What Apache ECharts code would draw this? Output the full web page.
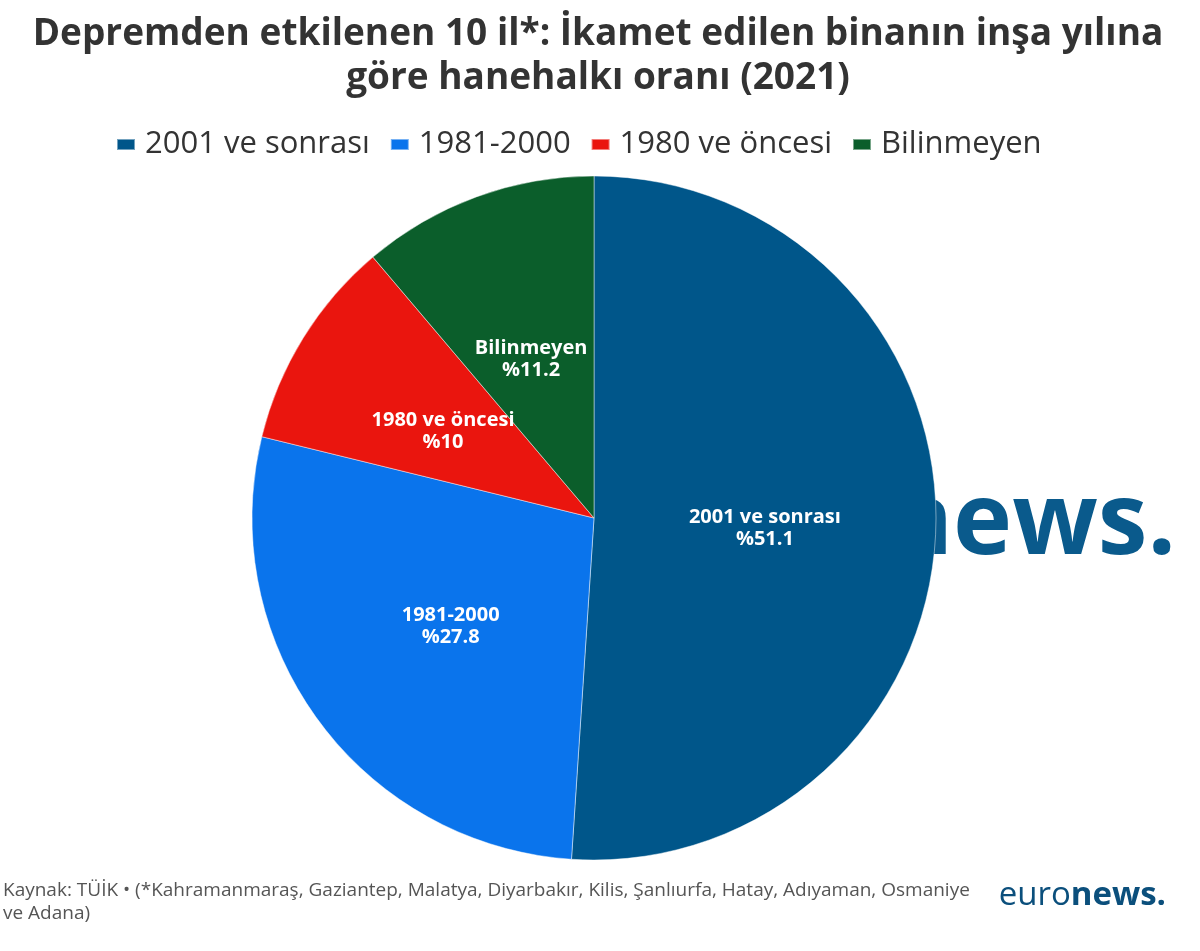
<!DOCTYPE html>
<html>
<head>
<meta charset="utf-8">
<script src="https://cdn.jsdelivr.net/npm/echarts@6/dist/echarts.min.js"></script>
<style>
html,body{margin:0;padding:0;background:#fff;}
#main{width:1200px;height:951px;}
</style>
</head>
<body>
<div id="main"></div>
<script>
const titleLines = ['Depremden etkilenen 10 il*: İkamet edilen binanın inşa yılına', 'göre hanehalkı oranı (2021)'];
const categories = ['2001 ve sonrası', '1981-2000', '1980 ve öncesi', 'Bilinmeyen'];
const values = [51.1, 27.8, 10, 11.2];
const colors = ['#00568a', '#0a74ec', '#ea150e', '#0b5e2b'];
const sourceLines = ['Kaynak: TÜİK • (*Kahramanmaraş, Gaziantep, Malatya, Diyarbakır, Kilis, Şanlıurfa, Hatay, Adıyaman, Osmaniye', 've Adana)'];

const chart = echarts.init(document.getElementById('main'));
const FONT = '"Open Sans", "Noto Sans", sans-serif';
chart.setOption({
  backgroundColor: '#fff',
  animation: false,
  legend: {
    top: 124,
    left: 111,
    icon: 'rect',
    itemWidth: 18,
    itemHeight: 11,
    itemGap: 20,
    data: categories,
    textStyle: { fontFamily: FONT, fontSize: 31, color: '#333', padding: [0, 0, 0, 5] }
  },
  graphic: [
    {
      type: 'text', x: 598, y: 12,
      style: { text: titleLines.join('\n'), align: 'center', fontFamily: FONT, fontSize: 37, fontWeight: 'bold', fill: '#333', lineHeight: 44 }
    },
    {
      type: 'text', z: 0,
      right: 24, top: 476,
      style: { text: 'euronews.', fontFamily: FONT, fontSize: 100, fontWeight: 'bold', fill: '#0a5a8c' }
    },
    {
      type: 'text', left: 3, top: 879,
      style: { text: sourceLines.join('\n'), fontFamily: FONT, fontSize: 19, fill: '#555', lineHeight: 23 }
    },
    {
      type: 'text', right: 34, top: 879,
      style: {
        text: '{a|euro}{b|news.}',
        rich: {
          a: { fontFamily: FONT, fontSize: 33, fontWeight: 'normal', fill: '#0b4f7c' },
          b: { fontFamily: FONT, fontSize: 33, fontWeight: 'bold', fill: '#0b4f7c' }
        }
      }
    }
  ],
  series: [{
    type: 'pie',
    z: 5,
    center: [594, 518],
    radius: 342,
    startAngle: 90,
    clockwise: true,
    itemStyle: { borderColor: 'rgba(255,255,255,0.45)', borderWidth: 1 },
    label: {
      show: true,
      position: 'inside',
      formatter: p => p.name + '\n%' + p.value,
      fontFamily: FONT,
      fontSize: 20,
      fontWeight: 'bold',
      color: '#fff',
      lineHeight: 22,
      offset: [-3, 5]
    },
    labelLine: { show: false },
    emphasis: { disabled: true },
    data: categories.map((c, i) => ({ name: c, value: values[i], itemStyle: { color: colors[i] } }))
  }]
});
</script>
</body>
</html>
